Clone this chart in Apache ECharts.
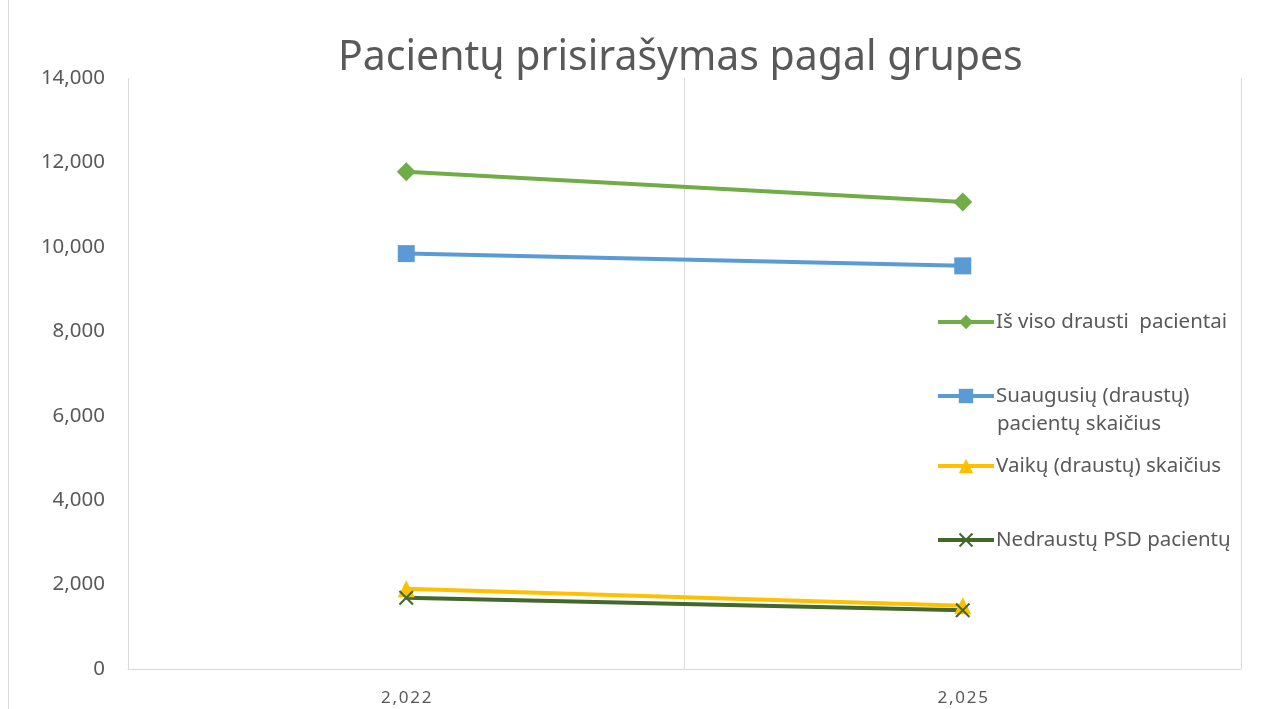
<!DOCTYPE html>
<html>
<head>
<meta charset="utf-8">
<script src="https://cdn.jsdelivr.net/npm/echarts@6/dist/echarts.min.js"></script>
<style>
  html, body { margin: 0; padding: 0; background: #fff; }
  #main { width: 1265px; height: 709px; }
</style>
</head>
<body>
<div id="main"></div>
<script>
// duomenys
var years = [2022, 2025];
var yTicks = [0, 2000, 4000, 6000, 8000, 10000, 12000, 14000];
var seriesNames = ['Iš viso drausti  pacientai', 'Suaugusių (draustų) pacientų skaičius', 'Vaikų (draustų) skaičius', 'Nedraustų PSD pacientų'];
var visoDrausti = [11780, 11060];
var suaugusiu = [9840, 9550];
var vaiku = [1900, 1500];
var nedraustu = [1690, 1390];

var txt = '#595959';
var font = 'Noto Sans';
var crossPath = 'path://M0,1 L1,0 L5,4 L9,0 L10,1 L6,5 L10,9 L9,10 L5,6 L1,10 L0,9 L4,5 Z';

var myChart = echarts.init(document.getElementById('main'));

function mkSeries(name, data, color, symbol, size) {
  return {
    name: name,
    type: 'line',
    data: data,
    symbol: symbol,
    symbolSize: size,
    showSymbol: true,
    lineStyle: { width: 4, color: color },
    itemStyle: { color: color },
    emphasis: { disabled: true },
    z: 3
  };
}

function mkLegend(name, top, label) {
  return {
    data: [name],
    left: 936,
    top: top,
    padding: 0,
    orient: 'vertical',
    itemWidth: 56,
    itemHeight: 18,
    itemGap: 0,
    selectedMode: false,
    lineStyle: { width: 4 },
    formatter: function () { return label; },
    textStyle: { color: txt, fontSize: 20.5, fontFamily: font, lineHeight: 24, padding: [0, 0, 0, -3] }
  };
}

var option = {
  backgroundColor: '#fff',
  animation: false,
  title: {
    text: 'Pacientų prisirašymas pagal grupes',
    left: 338,
    top: 38,
    padding: 0,
    textStyle: { color: txt, fontSize: 41, fontWeight: 'normal', fontFamily: font }
  },
  legend: [
    mkLegend(seriesNames[0], 310, 'Iš viso drausti  pacientai'),
    mkLegend(seriesNames[1], 384, 'Suaugusių (draustų)'),
    mkLegend(seriesNames[2], 454, 'Vaikų (draustų) skaičius'),
    mkLegend(seriesNames[3], 528, 'Nedraustų PSD pacientų')
  ],
  graphic: [
    { type: 'text', left: 997, top: 414, style: { text: 'pacientų skaičius', fill: txt, fontSize: 20.5, fontFamily: font } },
    { type: 'line', shape: { x1: 8.5, y1: 0, x2: 8.5, y2: 709 }, style: { stroke: '#d9d9d9', lineWidth: 1 } }
  ],
  grid: { left: 128, right: 24, top: 78, bottom: 40 },
  xAxis: {
    type: 'category',
    data: years,
    boundaryGap: true,
    axisLine: { show: true, lineStyle: { color: '#d9d9d9', width: 1 } },
    axisTick: { show: false },
    splitLine: { show: true, lineStyle: { color: '#d9d9d9', width: 1 } },
    axisLabel: {
      color: txt, fontSize: 17, fontFamily: font, margin: 21,
      formatter: function (v) { return Number(v).toLocaleString('en-US').split('').join('\u200A'); }
    }
  },
  yAxis: {
    type: 'value',
    min: yTicks[0],
    max: yTicks[yTicks.length - 1],
    interval: yTicks[1] - yTicks[0],
    axisLine: { show: false },
    axisTick: { show: false },
    splitLine: { show: false },
    axisLabel: {
      color: txt, fontSize: 20.5, fontFamily: font, margin: 23,
      formatter: function (v) { return v.toLocaleString('en-US'); }
    }
  },
  series: [
    mkSeries(seriesNames[0], visoDrausti, '#70AD47', 'diamond', 19),
    mkSeries(seriesNames[1], suaugusiu, '#5B9BD5', 'rect', 17),
    mkSeries(seriesNames[2], vaiku, '#FFC000', 'triangle', 17),
    mkSeries(seriesNames[3], nedraustu, '#43682B', crossPath, 15)
  ]
};

myChart.setOption(option);
window.addEventListener('resize', function () {
  myChart.resize();
});
</script>
</body>
</html>
